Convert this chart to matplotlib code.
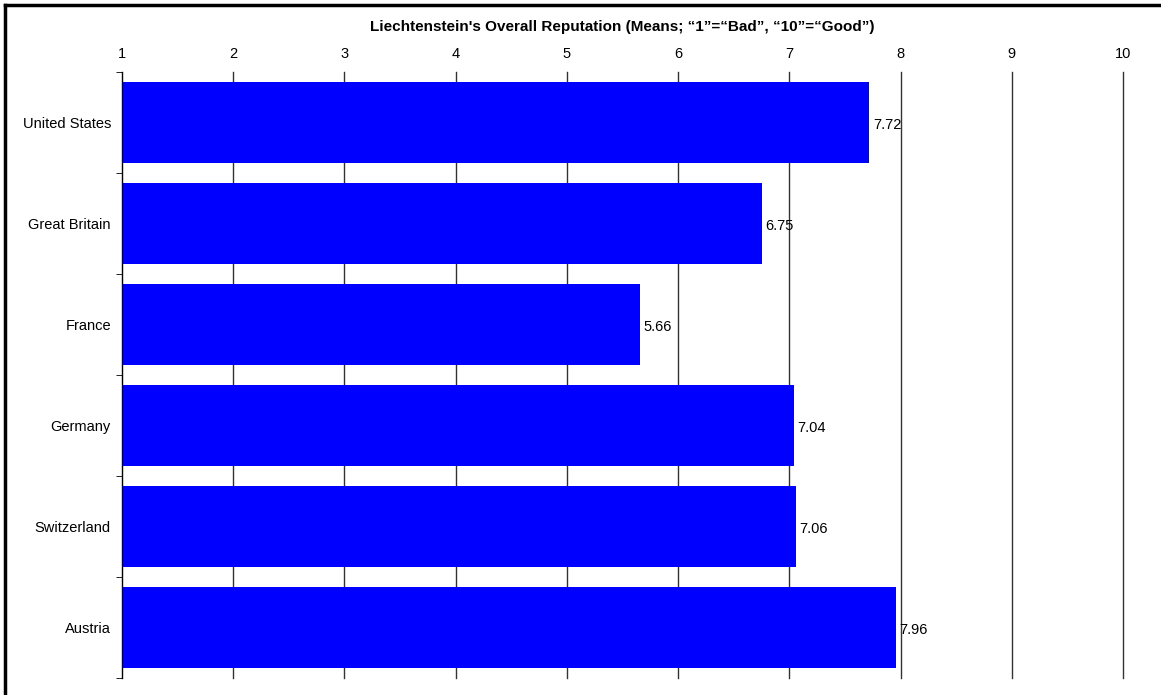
import numpy as np
import matplotlib.pyplot as plt

plt.rcParams['font.family'] = ['Liberation Sans', 'DejaVu Sans']

# data
paises = ['United States', 'Great Britain', 'France', 'Germany', 'Switzerland', 'Austria']
medias = [7.72, 6.75, 5.66, 7.04, 7.06, 7.96]
ticks_x = [1, 2, 3, 4, 5, 6, 7, 8, 9, 10]
titulo = "Liechtenstein's Overall Reputation (Means; \u201c1\u201d=\u201cBad\u201d, \u201c10\u201d=\u201cGood\u201d)"

fig = plt.figure(figsize=(11.61, 6.95), dpi=100)
W, H = 1161, 695
ax = fig.add_axes([122 / W, 1 - 678 / H, (1123 - 122) / W, (678 - 72) / H])

# marco de la figura (solo izquierda y arriba, como en la imagen recortada)
fig.add_artist(plt.Line2D([5 / W, 5 / W], [0, 1 - 5 / H], color='black', lw=2.5,
                          transform=fig.transFigure))
fig.add_artist(plt.Line2D([5 / W, 1], [1 - 5 / H, 1 - 5 / H], color='black', lw=2.5,
                          transform=fig.transFigure))

y = np.arange(len(paises))
ax.barh(y, np.array(medias) - 1, left=1, height=0.8, color='#0000ff', zorder=3)

for yi, v in zip(y, medias):
    ax.text(v + 0.03, yi + 0.02, f'{v:.2f}', va='center', ha='left', fontsize=10.5, zorder=4)

ax.set_xlim(1, 10)
ax.set_ylim(len(paises) - 0.5, -0.5)
ax.xaxis.tick_top()
ax.set_xticks(ticks_x)
ax.set_xticklabels([str(t) for t in ticks_x], fontsize=10.5)
ax.tick_params(axis='x', length=0, pad=8)
ax.grid(axis='x', color='#333333', lw=1, zorder=0)
for gl in ax.get_xgridlines():
    gl.set_clip_on(False)

ax.set_yticks(y)
ax.set_yticklabels(paises, fontsize=10.5)
ax.tick_params(axis='y', which='major', length=0, pad=8)
ax.set_yticks(np.arange(-0.5, len(paises), 1), minor=True)
ax.tick_params(axis='y', which='minor', length=4, direction='out', color='black')

for s in ['top', 'right', 'bottom']:
    ax.spines[s].set_visible(False)
ax.spines['left'].set_color('black')
ax.spines['left'].set_zorder(5)

fig.text(622 / W, 1 - 27 / H, titulo, ha='center', va='center', fontsize=11, fontweight='bold')

fig.savefig('out.png', dpi=100)
